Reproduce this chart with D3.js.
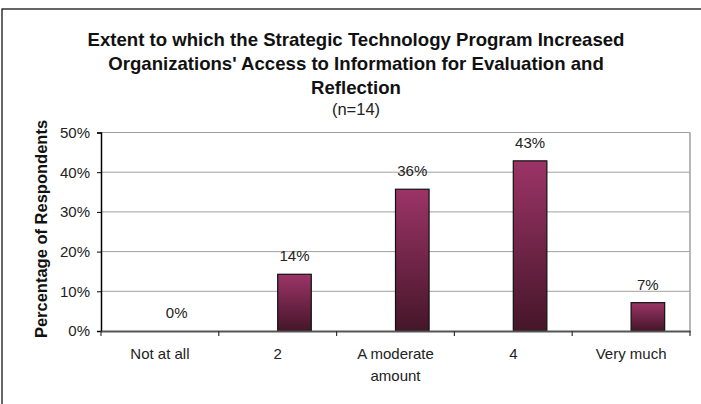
<!DOCTYPE html>
<html>
<head>
<meta charset="utf-8">
<script src="https://cdn.jsdelivr.net/npm/d3@7"></script>
<style>
  html, body { margin: 0; padding: 0; background: #fff; }
  svg { display: block; font-family: "Liberation Sans", Arial, sans-serif; }
</style>
</head>
<body>
<svg id="chart" width="701" height="404"></svg>
<script>
const categories = ["Not at all", "2", "A moderate amount", "4", "Very much"];
const categoryLines = [["Not at all"], ["2"], ["A moderate", "amount"], ["4"], ["Very much"]];
const values = [0, 0.1429, 0.3571, 0.4286, 0.0714];
const valueLabels = ["0%", "14%", "36%", "43%", "7%"];
const yTicks = [0, 0.1, 0.2, 0.3, 0.4, 0.5];
const titleLines = ["Extent to which the Strategic Technology Program Increased",
                    "Organizations' Access to Information for Evaluation and",
                    "Reflection"];
const subtitle = "(n=14)";
const yAxisTitle = "Percentage of Respondents";

(function() {
const svg = d3.select("#chart");

// outer border
svg.append("rect").attr("x", 2).attr("y", 9).attr("width", 720).attr("height", 420)
  .attr("fill", "none").attr("stroke", "#000").attr("stroke-width", 1.2);

const pLeft = 101, pRight = 690, pTop = 132.5, pBottom = 331;
const x = d3.scaleBand().domain(categories).range([pLeft, pRight]).paddingInner(0).paddingOuter(0);
const y = d3.scaleLinear().domain([0, 0.5]).range([pBottom, pTop]);

// gradient
const defs = svg.append("defs");
const grad = defs.append("linearGradient").attr("id", "barGrad")
  .attr("x1", 0).attr("y1", 0).attr("x2", 0).attr("y2", 1);
grad.append("stop").attr("offset", "0%").attr("stop-color", "#9c3467");
grad.append("stop").attr("offset", "100%").attr("stop-color", "#451629");

// gridlines
svg.append("g").selectAll("line").data(yTicks.filter(d => d > 0)).join("line")
  .attr("x1", pLeft).attr("x2", pRight)
  .attr("y1", d => y(d)).attr("y2", d => y(d))
  .attr("stroke", "#a0a0a0").attr("stroke-width", 1);
// right plot border
svg.append("line").attr("x1", pRight).attr("x2", pRight).attr("y1", pTop).attr("y2", pBottom)
  .attr("stroke", "#a0a0a0").attr("stroke-width", 1.5);

// bars
const barW = x.bandwidth() * 0.285;
svg.append("g").selectAll("rect").data(values).join("rect")
  .attr("x", (d, i) => x(categories[i]) + x.bandwidth() / 2)
  .attr("y", d => y(d))
  .attr("width", barW)
  .attr("height", d => pBottom - y(d))
  .attr("fill", "url(#barGrad)")
  .attr("stroke", d => d > 0 ? "#111" : "none").attr("stroke-width", 1.2);

// value labels
svg.append("g").selectAll("text").data(values).join("text")
  .attr("x", (d, i) => x(categories[i]) + x.bandwidth() / 2 + barW / 2)
  .attr("y", d => y(d) - 13)
  .attr("text-anchor", "middle")
  .attr("font-size", 15).attr("fill", "#222")
  .text((d, i) => valueLabels[i]);

// y axis
const yAxis = d3.axisLeft(y).tickValues(yTicks).tickFormat(d3.format(".0%")).tickSize(4).tickPadding(7);
const yg = svg.append("g").attr("transform", `translate(${pLeft},0)`).call(yAxis);
yg.select(".domain").attr("stroke", "#000").attr("stroke-width", 1.5);
yg.selectAll(".tick line").attr("stroke", "#000");
yg.selectAll(".tick text").attr("font-size", 15).attr("fill", "#222")
  .attr("font-family", "'Liberation Sans', Arial, sans-serif");

// x axis
const xAxis = d3.axisBottom(x).tickSize(0).tickFormat("");
const xg = svg.append("g").attr("transform", `translate(0,${pBottom})`).call(xAxis);
xg.select(".domain").attr("stroke", "#555").attr("stroke-width", 2);
// category boundary ticks
const bounds = categories.map(c => x(c)).concat([pRight]);
svg.append("g").selectAll("line").data(bounds).join("line")
  .attr("x1", d => d).attr("x2", d => d)
  .attr("y1", pBottom).attr("y2", pBottom + 5)
  .attr("stroke", "#333").attr("stroke-width", 1.2);
// category labels
const cl = svg.append("g").selectAll("text").data(categoryLines).join("text")
  .attr("x", (d, i) => x(categories[i]) + x.bandwidth() / 2)
  .attr("y", 359)
  .attr("text-anchor", "middle").attr("font-size", 15).attr("fill", "#222");
cl.each(function(lines) {
  const t = d3.select(this);
  t.selectAll("tspan").data(lines).join("tspan")
    .attr("x", t.attr("x"))
    .attr("dy", (d, j) => j === 0 ? 0 : 22)
    .text(d => d);
});

// title
svg.append("g").selectAll("text").data(titleLines).join("text")
  .attr("x", 356).attr("y", (d, i) => 45.7 + i * 24.2)
  .attr("text-anchor", "middle").attr("font-size", 18.6).attr("font-weight", "bold")
  .attr("fill", "#111").text(d => d);
svg.append("text").attr("x", 356).attr("y", 114.5).attr("text-anchor", "middle")
  .attr("font-size", 16.5).attr("fill", "#222").text(subtitle);

// y axis title
svg.append("text").attr("transform", `translate(46.5,${(118 + 340) / 2}) rotate(-90)`)
  .attr("text-anchor", "middle").attr("font-size", 16.5).attr("font-weight", "bold")
  .attr("fill", "#111").text(yAxisTitle);
})();
</script>
</body>
</html>
